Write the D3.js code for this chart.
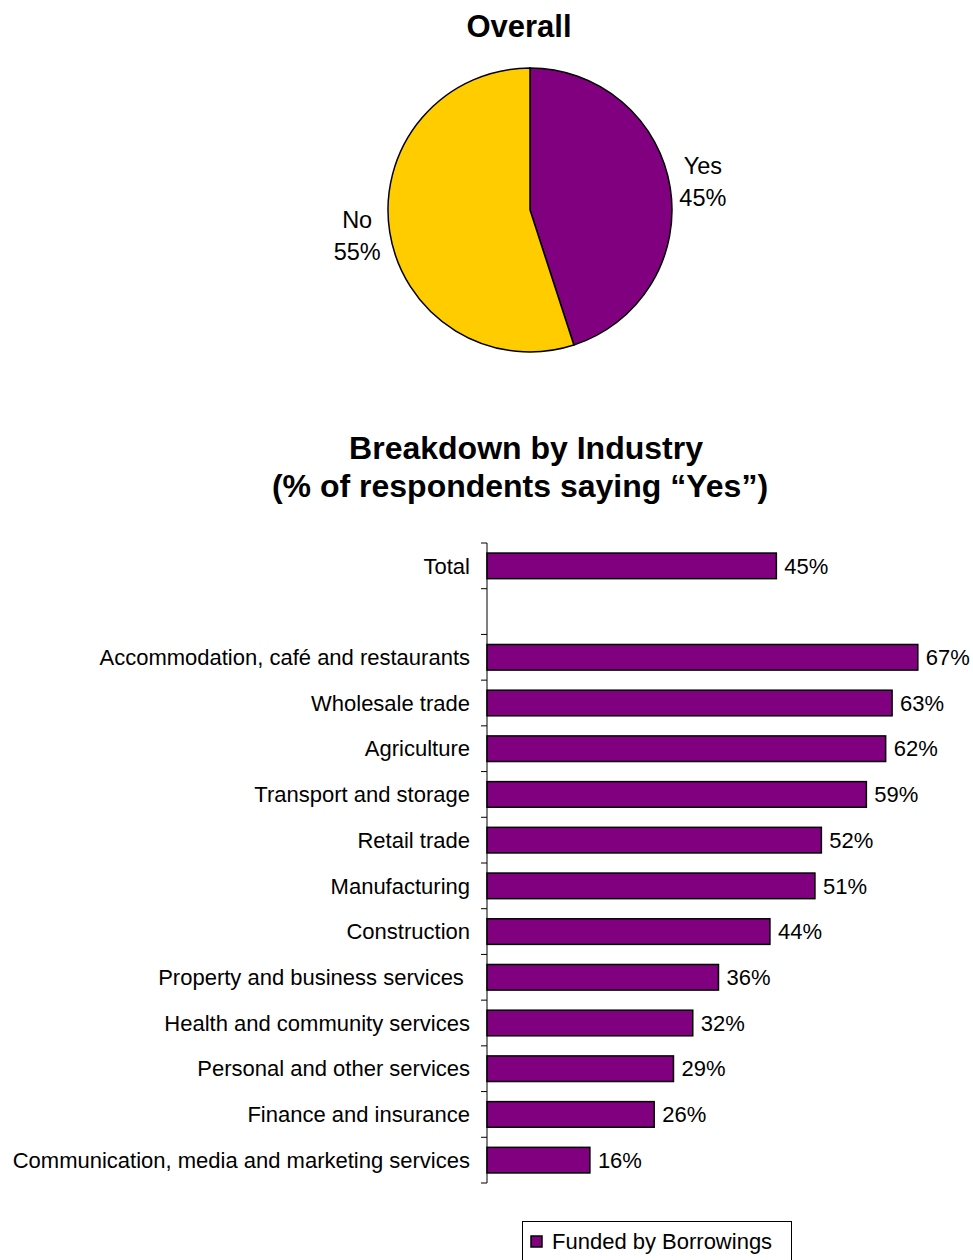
<!DOCTYPE html>
<html>
<head>
<meta charset="utf-8">
<script src="https://cdn.jsdelivr.net/npm/d3@7"></script>
<style>
  html, body { margin: 0; padding: 0; background: #fff; }
  svg { display: block; font-family: "Liberation Sans", Arial, sans-serif; }
</style>
</head>
<body>
<svg id="chart" width="973" height="1260"></svg>
<script>
// Overall answer split
const pieLabels = ["Yes", "No"];
const pieValues = [45, 55];
const pieColors = ["#800080", "#FFCC00"];

// Share of "Yes" by industry (first row is the total, then a blank spacer row)
const categories = [
  "Total",
  "",
  "Accommodation, café and restaurants",
  "Wholesale trade",
  "Agriculture",
  "Transport and storage",
  "Retail trade",
  "Manufacturing",
  "Construction",
  "Property and business services ",
  "Health and community services",
  "Personal and other services",
  "Finance and insurance",
  "Communication, media and marketing services"
];
const yesShare = [45, null, 67, 63, 62, 59, 52, 51, 44, 36, 32, 29, 26, 16];
const seriesName = "Funded by Borrowings";

const svg = d3.select("#chart");

// ---- Pie: Overall ----
svg.append("text")
  .attr("x", 519).attr("y", 37)
  .attr("text-anchor", "middle")
  .attr("font-size", 31).attr("font-weight", "bold")
  .text("Overall");

const cx = 530, cy = 210, r = 142;
const pie = d3.pie().sort(null).value(d => d.v);
const arc = d3.arc().innerRadius(0).outerRadius(r);
const pieData = pie(pieValues.map((v, i) => ({ v, label: pieLabels[i], color: pieColors[i] })));

const pg = svg.append("g").attr("transform", `translate(${cx},${cy})`);
pg.selectAll("path").data(pieData).join("path")
  .attr("d", arc)
  .attr("fill", d => d.data.color)
  .attr("stroke", "#000").attr("stroke-width", 1.5);

// category name and percentage placed just outside each slice
const labelArc = d3.arc().innerRadius(175).outerRadius(175);
pg.selectAll("text.pl").data(pieData).join("text")
  .attr("class", "pl")
  .attr("text-anchor", "middle")
  .attr("font-size", 23.5)
  .each(function (d) {
    const [lx, ly] = labelArc.centroid(d);
    const t = d3.select(this);
    t.append("tspan").attr("x", lx).attr("y", ly - 9).text(d.data.label);
    t.append("tspan").attr("x", lx).attr("y", ly + 23).text(d.data.v + "%");
  });

// ---- Bars: Breakdown by Industry ----
svg.append("text")
  .attr("x", 526).attr("y", 459)
  .attr("text-anchor", "middle")
  .attr("font-size", 32).attr("font-weight", "bold")
  .text("Breakdown by Industry");
svg.append("text")
  .attr("x", 520).attr("y", 497)
  .attr("text-anchor", "middle")
  .attr("font-size", 32).attr("font-weight", "bold")
  .text("(% of respondents saying \u201CYes\u201D)");

const keys = categories.map((c, i) => i);
const x = d3.scaleLinear().domain([0, 100]).range([487, 487 + 643]);
const y = d3.scaleBand().domain(keys).range([543, 1183]).paddingInner(0.44).paddingOuter(0.22);
const step = y.step();

const rows = keys.map(i => ({ i, name: categories[i], v: yesShare[i] })).filter(d => d.v != null);

svg.append("g").selectAll("rect").data(rows).join("rect")
  .attr("x", x(0))
  .attr("y", d => y(d.i))
  .attr("width", d => x(d.v) - x(0))
  .attr("height", y.bandwidth())
  .attr("fill", "#800080")
  .attr("stroke", "#000").attr("stroke-width", 1.5);

svg.append("g").selectAll("text").data(rows).join("text")
  .attr("x", d => x(d.v) + 8)
  .attr("y", d => y(d.i) + y.bandwidth() / 2)
  .attr("dy", "0.35em")
  .attr("font-size", 22)
  .text(d => d.v + "%");

svg.append("g").selectAll("text").data(rows).join("text")
  .attr("x", 470)
  .attr("y", d => y(d.i) + y.bandwidth() / 2)
  .attr("dy", "0.35em")
  .attr("text-anchor", "end")
  .attr("font-size", 22)
  .style("white-space", "pre")
  .text(d => d.name);

// category axis with ticks on band boundaries
const ax = svg.append("g").attr("stroke", "#000").attr("stroke-width", 1);
const y0 = y.range()[0], y1 = y.range()[1];
ax.append("line").attr("x1", x(0)).attr("x2", x(0)).attr("y1", y0).attr("y2", y1);
const bounds = keys.map(i => y(i) - step * y.paddingInner() / 2).concat([y1]);
bounds[0] = y0;
ax.selectAll("line.tk").data(bounds).join("line")
  .attr("class", "tk")
  .attr("x1", x(0) - 6).attr("x2", x(0))
  .attr("y1", d => d).attr("y2", d => d);

// legend
const lg = svg.append("g");
lg.append("rect")
  .attr("x", 522.5).attr("y", 1221.5)
  .attr("width", 269).attr("height", 60)
  .attr("fill", "#fff").attr("stroke", "#000").attr("stroke-width", 1);
lg.append("rect")
  .attr("x", 531).attr("y", 1236)
  .attr("width", 11).attr("height", 11)
  .attr("fill", "#800080").attr("stroke", "#000").attr("stroke-width", 1.5);
lg.append("text")
  .attr("x", 552).attr("y", 1249)
  .attr("font-size", 22)
  .text(seriesName);
</script>
</body>
</html>
